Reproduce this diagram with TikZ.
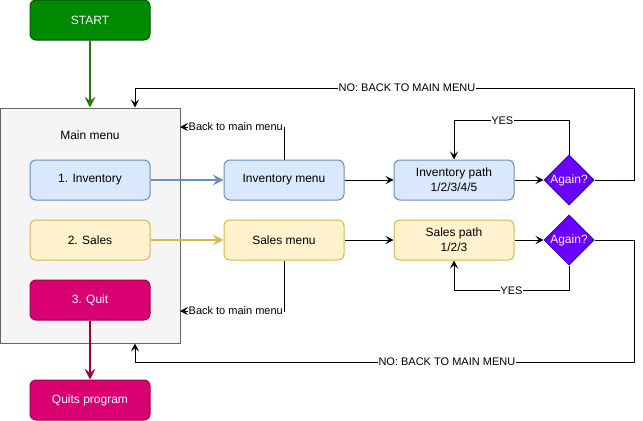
\documentclass[tikz,border=0pt]{standalone}
\usepackage{fontspec}
\setmainfont{Liberation Sans}
\usetikzlibrary{shapes.geometric,arrows.meta}
\definecolor{startfill}{HTML}{008A00}
\definecolor{startline}{HTML}{005700}
\definecolor{startarrow}{HTML}{2D7600}
\definecolor{mainfill}{HTML}{F5F5F5}
\definecolor{mainline}{HTML}{666666}
\definecolor{invfill}{HTML}{DAE8FC}
\definecolor{invline}{HTML}{6C8EBF}
\definecolor{salesfill}{HTML}{FFF2CC}
\definecolor{salesline}{HTML}{D6B656}
\definecolor{quitfill}{HTML}{D80073}
\definecolor{quitline}{HTML}{A50040}
\definecolor{askfill}{HTML}{6A00FF}
\definecolor{askline}{HTML}{3700CC}
\begin{document}
\begin{tikzpicture}[x=0.75pt,y=-0.75pt,font=\fontsize{9}{11}\selectfont,
  box/.style={draw,rounded corners=4.5pt,minimum width=90pt,minimum height=30pt,inner sep=1pt,align=center,line width=0.75pt},
  invbox/.style={box,fill=invfill,draw=invline},
  salesbox/.style={box,fill=salesfill,draw=salesline},
  quitbox/.style={box,fill=quitfill,draw=quitline,text=white},
  askbox/.style={diamond,draw=askline,fill=askfill,minimum size=37.5pt,inner sep=0pt,line width=0.75pt,
    label={[text=white]center:Again?}},
  arrow/.style={-{Stealth[length=6pt,width=6pt,inset=2.5pt]},line width=0.75pt},
  thickarrow/.style={-{Stealth[length=8pt,width=8pt,inset=3pt]},line width=1.5pt},
  lbl/.style={fill=white,inner sep=0.5pt,font=\fontsize{8.25}{10}\selectfont}]
\useasboundingbox (0,0) rectangle (643,421);

% main menu panel
\node[draw=mainline,fill=mainfill,line width=0.75pt,minimum width=135pt,minimum height=176.25pt,inner sep=0pt] (main) at (90,225.5) {};
\node (maintitle) at (90,135) {Main menu};

\node[box,fill=startfill,draw=startline,text=white] (start) at (90,20) {START};
\node[invbox] (inv) at (90,180) {1. Inventory};
\node[salesbox] (sales) at (90,240) {2. Sales};
\node[quitbox] (quit) at (90,300) {3. Quit};
\node[quitbox] (quits) at (90,400) {Quits program};

\node[invbox] (invmenu) at (284,180) {Inventory menu};
\node[salesbox] (salesmenu) at (284,240) {Sales menu};
\node[invbox] (invpath) at (454,180) {Inventory path\\1/2/3/4/5};
\node[salesbox] (salespath) at (454,240) {Sales path\\1/2/3};
\node[askbox] (askinv) at (569,180) {};
\node[askbox] (asksales) at (569,240) {};

\coordinate (backinv) at (180,127);
\coordinate (backsales) at (180,311);
\coordinate (noinvR) at (634,88);
\coordinate (noinvL) at (135,88);
\coordinate (nosalesR) at (634,362);
\coordinate (nosalesL) at (135,362);

\draw[thickarrow,startarrow] (start) -- (start |- main.north);
\draw[thickarrow,invline] (inv) -- (invmenu);
\draw[thickarrow,salesline] (sales) -- (salesmenu);
\draw[thickarrow,quitline] (quit) -- (quits);

\draw[arrow] (invmenu) -- (invpath);
\draw[arrow] (invpath) -- (askinv);
\draw[arrow] (salesmenu) -- (salespath);
\draw[arrow] (salespath) -- (asksales);

% back to main menu
\draw[arrow] (invmenu.north) |- node[pos=0.5,anchor=east,lbl] {Back to main menu} (backinv);
\draw[arrow] (salesmenu.south) |- node[pos=0.5,anchor=east,lbl] {Back to main menu} (backsales);

% yes loops
\draw[arrow] (askinv.north) -- ++(0,-34) -| node[pos=0.29,lbl] {YES} (invpath.north);
\draw[arrow] (asksales.south) -- ++(0,25) -| node[pos=0.25,lbl] {YES} (salespath.south);

% no loops
\draw[arrow] (askinv.east) -| (noinvR) -- node[pos=0.455,lbl] {NO: BACK TO MAIN MENU} (noinvL) -- (noinvL |- main.north);
\draw[arrow] (asksales.east) -| (nosalesR) -- node[pos=0.375,lbl] {NO: BACK TO MAIN MENU} (nosalesL) -- (nosalesL |- main.south);
\end{tikzpicture}
\end{document}
